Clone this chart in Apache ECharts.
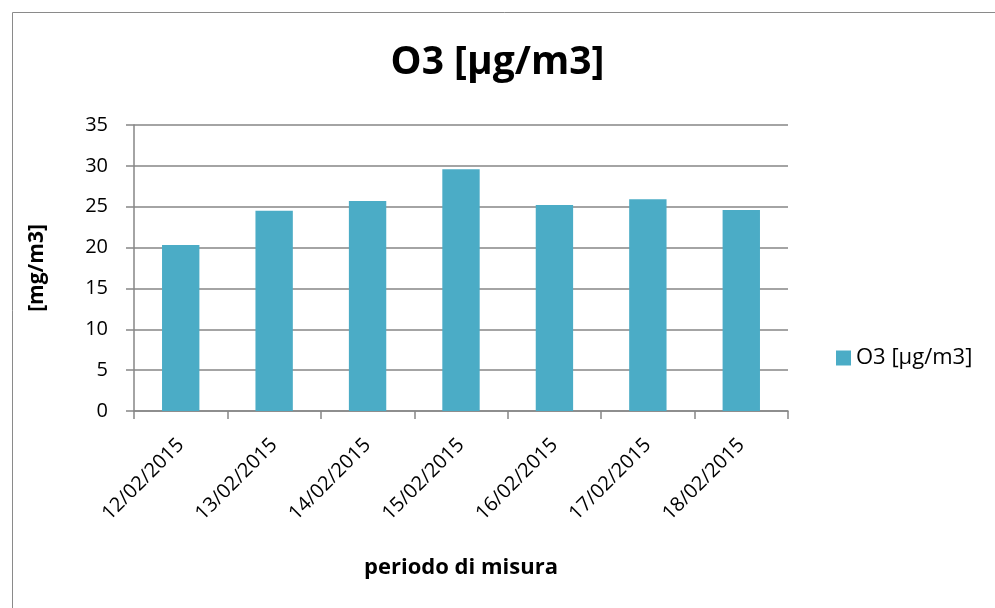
<!DOCTYPE html>
<html><head><meta charset="utf-8">
<script src="https://cdn.jsdelivr.net/npm/echarts@6/dist/echarts.min.js"></script>
<style>html,body{margin:0;padding:0;background:#fff}#c{width:995px;height:608px}</style>
</head><body><div id="c"></div>
<script>
const categories = ['12/02/2015','13/02/2015','14/02/2015','15/02/2015','16/02/2015','17/02/2015','18/02/2015'];
const o3Values = [20.3, 24.5, 25.7, 29.6, 25.2, 25.9, 24.6];
const seriesName = 'O3 [µg/m3]';
const titleText = 'O3 [µg/m3]';
const yName = '[mg/m3]';
const xName = 'periodo di misura';

const FONT = '"Open Sans", "Noto Sans", sans-serif';
const chart = echarts.init(document.getElementById('c'));
chart.setOption({
  animation: false,
  backgroundColor: '#fff',
  graphic: [{type:'rect', shape:{x:12.5,y:12.5,width:1000,height:700}, style:{fill:'none', stroke:'#8a8a8a', lineWidth:1}, silent:true}],
  title: {text: titleText, left: 'center', top: 38, textStyle:{fontFamily: FONT, fontWeight:'bold', fontSize:39, color:'#000'}},
  legend: {data:[seriesName], left: 831, top: 342, icon:'rect', itemWidth:15, itemHeight:15, itemGap:8,
    textStyle:{fontFamily: FONT, fontSize:22, color:'#000'}},
  grid: {left:134, right:207, top:125, bottom:197},
  xAxis: {type:'category', data: categories, boundaryGap:true,
    name: xName, nameLocation:'middle', nameGap:146,
    nameTextStyle:{fontFamily: FONT, fontWeight:'bold', fontSize:22, color:'#000'},
    axisLine:{lineStyle:{color:'#868686', width:1.5}},
    axisTick:{show:true, length:8, alignWithLabel:false, lineStyle:{color:'#868686', width:1.5}},
    axisLabel:{rotate:45, fontFamily: FONT, fontSize:20, color:'#000', margin:31, interval:0}
  },
  yAxis: {type:'value', min:0, max:35, interval:5,
    name: yName, nameLocation:'middle', nameGap:86, nameRotate:90,
    nameTextStyle:{fontFamily: FONT, fontWeight:'bold', fontSize:21, color:'#000'},
    axisLine:{show:true, lineStyle:{color:'#868686', width:1.5}},
    axisTick:{show:true, length:8, lineStyle:{color:'#868686', width:1.5}},
    axisLabel:{fontFamily: FONT, fontSize:20, color:'#000', margin:26},
    splitLine:{lineStyle:{color:'#868686', width:1.5}}
  },
  series: [{name: seriesName, type:'bar', data: o3Values, barWidth:'40%', itemStyle:{color:'#4BACC6'}}]
});
</script></body></html>
